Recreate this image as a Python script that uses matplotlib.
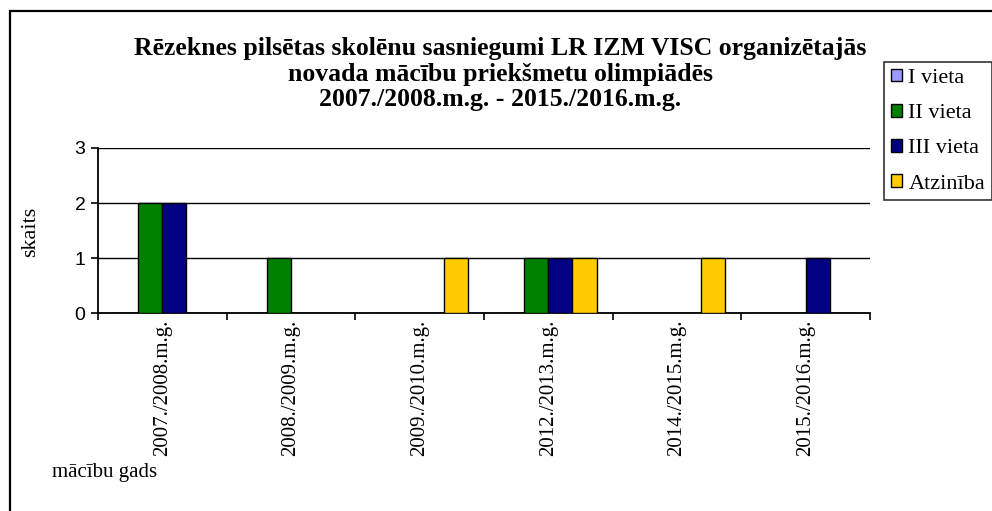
import matplotlib
matplotlib.use("Agg")
import matplotlib.pyplot as plt
import numpy as np
from matplotlib.patches import Rectangle

categories = ["2007./2008.m.g.", "2008./2009.m.g.", "2009./2010.m.g.",
              "2012./2013.m.g.", "2014./2015.m.g.", "2015./2016.m.g."]
series_names = ["I vieta", "II vieta", "III vieta", "Atzinība"]
i_vieta = [0, 0, 0, 0, 0, 0]
ii_vieta = [2, 1, 0, 1, 0, 0]
iii_vieta = [2, 0, 0, 1, 0, 1]
atziniba = [0, 0, 1, 1, 1, 0]
colors = ["#9999FF", "#008000", "#000080", "#FFCC00"]
yticks = [0, 1, 2, 3]

W, H = 992, 511
fig = plt.figure(figsize=(W / 100, H / 100), dpi=100)

def fx(px):
    return px / W

def fy(py):
    return 1 - py / H

ax = fig.add_axes([fx(98), fy(313), fx(870) - fx(98), fy(148) - fy(313)])

n = len(categories)
x = np.arange(n)
bw = 0.1875
data = [i_vieta, ii_vieta, iii_vieta, atziniba]
handles = []
for k, (vals, col, name) in enumerate(zip(data, colors, series_names)):
    h = ax.bar(x + (k - 1.5) * bw, vals, width=bw, color=col,
               edgecolor="black", linewidth=1.0, label=name, zorder=3)
    handles.append(h)

ax.set_xlim(-0.5, n - 0.5)
ax.set_ylim(0, 3)
ax.set_yticks(yticks)
ax.set_yticklabels([str(t) for t in yticks], fontfamily="Liberation Sans", fontsize=14)
ax.yaxis.grid(True, color="black", linewidth=1.0, zorder=0)
ax.set_axisbelow(True)

ax.set_xticks(np.arange(n + 1) - 0.5)
ax.set_xticklabels([])
ax.set_xticks(x, minor=True)
ax.set_xticklabels(categories, minor=True, rotation=90, fontfamily="Liberation Serif",
                   fontsize=15, va="top", ha="center")
ax.tick_params(axis="x", which="minor", length=0, pad=5)
ax.tick_params(axis="x", which="major", length=5, width=1.2, direction="out", color="black")
ax.tick_params(axis="y", length=5, width=1.2, direction="out", color="black", pad=4)

for s in ["top", "right"]:
    ax.spines[s].set_visible(False)
for s in ["left", "bottom"]:
    ax.spines[s].set_linewidth(1.3)
    ax.spines[s].set_color("black")

fig.text(fx(31), fy(232), "skaits", rotation=90, ha="center", va="center",
         fontfamily="Liberation Serif", fontsize=16)
fig.text(fx(52), fy(472), "mācību gads", ha="left", va="center",
         fontfamily="Liberation Serif", fontsize=15)

title = ("Rēzeknes pilsētas skolēnu sasniegumi LR IZM VISC organizētajās\n"
         "novada mācību priekšmetu olimpiādēs\n"
         "2007./2008.m.g. - 2015./2016.m.g.")
fig.text(fx(500), fy(74), title, ha="center", va="center", fontfamily="Liberation Serif",
         fontweight="bold", fontsize=18.5, linespacing=1.12)

leg = fig.legend(handles, series_names, loc="upper left",
                 bbox_to_anchor=(fx(884), fy(62)), bbox_transform=fig.transFigure,
                 prop={"family": "Liberation Serif", "size": 16},
                 frameon=True, fancybox=False, edgecolor="black", borderaxespad=0,
                 handlelength=0.5, handleheight=0.5, handletextpad=0.3,
                 labelspacing=0.72, borderpad=0.3)
leg.get_frame().set_linewidth(1.2)

fig.patches.append(Rectangle((fx(10), fy(520)), fx(1010) - fx(10), fy(11) - fy(520),
                             transform=fig.transFigure, fill=False, edgecolor="black",
                             linewidth=1.6))

fig.savefig("out.png", dpi=100)
